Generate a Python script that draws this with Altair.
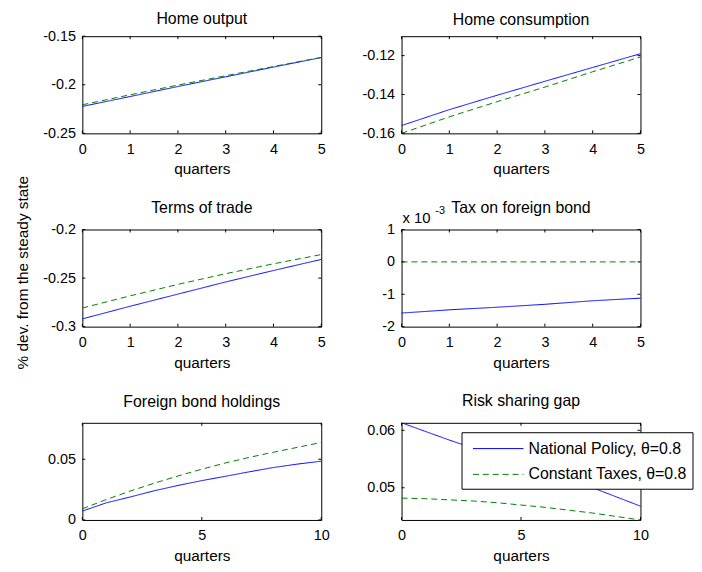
import altair as alt
import pandas as pd

FONT = "Liberation Sans"
BLUE = "#0000FF"
GREEN = "#008000"
W, H = 241, 98

series_names = ["National Policy, θ=0.8", "Constant Taxes, θ=0.8"]

q5 = [0, 1, 2, 3, 4, 5]
q10 = [0, 1, 2, 3, 4, 5, 6, 7, 8, 9, 10]

# Home output
out_blue = [-0.2223, -0.2121, -0.2018, -0.1918, -0.1818, -0.1720]
out_green = [-0.2206, -0.2103, -0.2003, -0.1907, -0.1812, -0.1718]
# Home consumption
cons_blue = [-0.1560, -0.1478, -0.1404, -0.1332, -0.1261, -0.1190]
cons_green = [-0.1600, -0.1515, -0.1437, -0.1362, -0.1283, -0.1207]
# Terms of trade
tot_blue = [-0.2920, -0.2790, -0.2665, -0.2540, -0.2422, -0.2308]
tot_green = [-0.2808, -0.2683, -0.2565, -0.2455, -0.2353, -0.2258]
# Tax on foreign bond (units of 10^-3)
tax_blue = [-1.58, -1.48, -1.40, -1.31, -1.20, -1.12]
tax_green = [0.0, 0.0, 0.0, 0.0, 0.0, 0.0]
# Foreign bond holdings
bond_blue = [0.0073, 0.0141, 0.0189, 0.0240, 0.0284, 0.0324, 0.0360, 0.0397, 0.0432, 0.0460, 0.0484]
bond_green = [0.0092, 0.0168, 0.0238, 0.0302, 0.0362, 0.0418, 0.0470, 0.0516, 0.0558, 0.0598, 0.0638]
# Risk sharing gap
gap_blue = [0.0613, 0.0598, 0.0583, 0.0569, 0.0555, 0.0541, 0.0528, 0.0514, 0.0500, 0.0484, 0.0468]
gap_green = [0.0482, 0.0481, 0.0479, 0.0477, 0.0474, 0.0470, 0.0466, 0.0461, 0.0456, 0.0450, 0.0444]

one = pd.DataFrame({"k": [0]})


def make_panel(title, toff, xs, blue, green, xdom, xticks, ydom, yticks, ytitle=None, extras=()):
    df = pd.DataFrame({
        "q": xs + xs,
        "v": blue + green,
        "s": [series_names[0]] * len(xs) + [series_names[1]] * len(xs),
    })
    ykw = dict(values=yticks, labelExpr="toString(datum.value)")
    if ytitle:
        yaxis = alt.Axis(title=ytitle, titleAngle=270, titleX=-55, titleY=238,
                         titleAlign="center", titleBaseline="alphabetic",
                         titleFontSize=15.5, **ykw)
    else:
        yaxis = alt.Axis(title=None, **ykw)
    xaxis = alt.Axis(values=xticks, title="quarters")
    xscale = alt.Scale(domain=xdom, nice=False, zero=False)
    yscale = alt.Scale(domain=ydom, nice=False, zero=False)
    x_enc = alt.X("q:Q", scale=xscale, axis=xaxis)
    y_enc = alt.Y("v:Q", scale=yscale, axis=yaxis)
    lines = alt.Chart(df).mark_line(strokeWidth=1).encode(
        x=x_enc,
        y=y_enc,
        color=alt.Color("s:N", scale=alt.Scale(domain=series_names, range=[BLUE, GREEN]), legend=None),
        strokeDash=alt.StrokeDash("s:N", scale=alt.Scale(domain=series_names, range=[[1, 0], [6, 4]]),
                                  legend=None),
    )
    xt = pd.DataFrame({"q": xticks})
    yt = pd.DataFrame({"v": yticks})
    rule = dict(color="black", strokeWidth=1)
    tb = alt.Chart(xt).mark_rule(**rule).encode(x=x_enc, y=alt.value(H), y2=alt.value(H - 3))
    tt = alt.Chart(xt).mark_rule(**rule).encode(x=x_enc, y=alt.value(0), y2=alt.value(3))
    tl = alt.Chart(yt).mark_rule(**rule).encode(y=y_enc, x=alt.value(0), x2=alt.value(3))
    tr = alt.Chart(yt).mark_rule(**rule).encode(y=y_enc, x=alt.value(W - 3), x2=alt.value(W))
    return alt.layer(lines, tb, tt, tl, tr, *extras).properties(
        width=W, height=H, title=alt.Title(title, offset=toff))


# exponent label for the tax panel (drawn from the panel above it, same column, one row lower)
ROWSTEP = H + 97
exp_main = alt.Chart(one).mark_text(align="left", baseline="alphabetic", font=FONT, fontSize=15,
                                    color="black").encode(x=alt.value(1), y=alt.value(ROWSTEP - 7),
                                                          text=alt.value("x 10"))
exp_sup = alt.Chart(one).mark_text(align="left", baseline="alphabetic", font=FONT, fontSize=11,
                                   color="black").encode(x=alt.value(34), y=alt.value(ROWSTEP - 16),
                                                         text=alt.value("-3"))

# legend box for the risk sharing panel
leg_box = alt.Chart(one).mark_rect(fill="white", stroke="black", strokeWidth=1).encode(
    x=alt.value(61), x2=alt.value(294), y=alt.value(10), y2=alt.value(67))
leg_l1 = alt.Chart(one).mark_rule(strokeWidth=1).encode(
    x=alt.value(72), x2=alt.value(123), y=alt.value(26), color=alt.value(BLUE))
leg_l2 = alt.Chart(one).mark_rule(strokeWidth=1, strokeDash=[6, 4]).encode(
    x=alt.value(72), x2=alt.value(123), y=alt.value(52), color=alt.value(GREEN))
leg_t1 = alt.Chart(one).mark_text(align="left", baseline="middle", font=FONT, fontSize=16, color="black").encode(
    x=alt.value(128), y=alt.value(26), text=alt.value(series_names[0]))
leg_t2 = alt.Chart(one).mark_text(align="left", baseline="middle", font=FONT, fontSize=16, color="black").encode(
    x=alt.value(128), y=alt.value(52), text=alt.value(series_names[1]))

p1 = make_panel("Home output", 1, q5, out_blue, out_green, [0, 5], q5, [-0.25, -0.15], [-0.25, -0.2, -0.15],
                ytitle="% dev. from the steady state")
p2 = make_panel("Home consumption", 8, q5, cons_blue, cons_green, [0, 5], q5, [-0.16, -0.11],
                [-0.16, -0.14, -0.12], extras=(exp_main, exp_sup))
p3 = make_panel("Terms of trade", 5.5, q5, tot_blue, tot_green, [0, 5], q5, [-0.3, -0.2], [-0.3, -0.25, -0.2])
p4 = make_panel("Tax on foreign bond", 5.5, q5, tax_blue, tax_green, [0, 5], q5, [-2, 1], [-2, -1, 0, 1])
p5 = make_panel("Foreign bond holdings", 12, q10, bond_blue, bond_green, [0, 10], [0, 5, 10], [0, 0.08],
                [0, 0.05])
p6 = make_panel("Risk sharing gap", 12, q10, gap_blue, gap_green, [0, 10], [0, 5, 10], [0.0444, 0.0613],
                [0.05, 0.06], extras=(leg_box, leg_l1, leg_l2, leg_t1, leg_t2))

chart = alt.concat(p1, p2, p3, p4, p5, p6, columns=2, spacing={"row": 97, "column": 81}, bounds="flush").properties(
    padding={"left": 7, "top": 0, "right": 0, "bottom": 0}
).configure_view(
    stroke="black", strokeWidth=1
).configure_axis(
    domain=False, ticks=False, tickSize=0, grid=False,
    labelFont=FONT, labelFontSize=14.5, labelColor="black",
    titleFont=FONT, titleFontSize=15.5, titleFontWeight="normal", titleColor="black",
    labelFlush=False, labelOverlap=False, labelBound=False,
).configure_axisX(
    labelPadding=20, labelBaseline="alphabetic", titleY=41, titleBaseline="alphabetic",
).configure_axisY(
    labelPadding=7, labelBaseline="middle",
).configure_title(
    font=FONT, fontSize=16, fontWeight="normal", color="black", baseline="alphabetic",
    frame="group", anchor="middle",
)

chart.save("out.html", embed_options={"renderer": "svg", "actions": False})
